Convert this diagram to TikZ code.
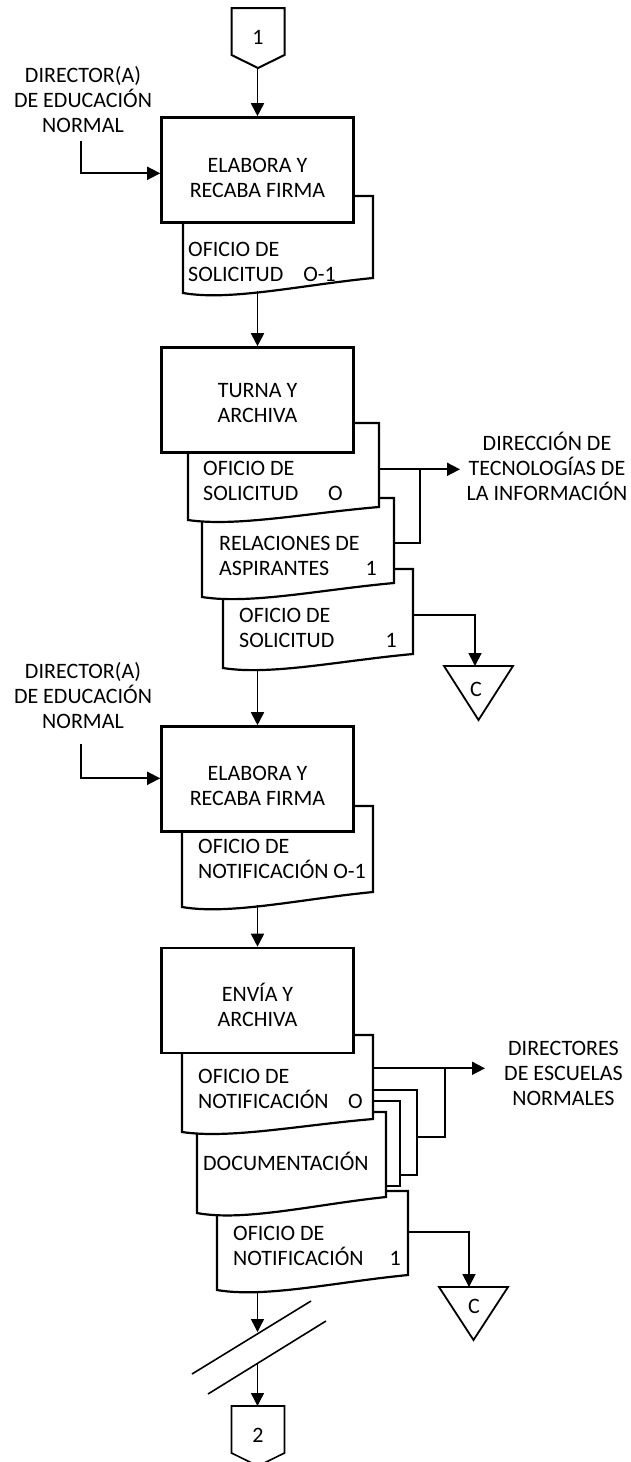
\documentclass[tikz,border=0pt]{standalone}
\usepackage{fontspec}
\setmainfont{Carlito}
\usetikzlibrary{arrows.meta}
\tikzset{
  procbox/.style={draw, line width=2.6pt, fill=white, minimum width=192pt, minimum height=105pt, inner sep=0pt},
  docline/.style={draw, line width=2.2pt, fill=white, line join=miter},
  conn/.style={line width=1.8pt},
  arr/.style={conn, -{Triangle[length=13pt,width=13pt]}},
  thinarr/.style={line width=1.4pt, -{Triangle[length=13pt,width=13pt]}},
  txt/.style={inner sep=0pt, font=\fontsize{22}{25}\selectfont},
  offpage/.style={line width=2pt, fill=white},
  tri/.style={line width=1.8pt, fill=white},
}
\newcommand\docshape[5]{%
  \pgfmathsetmacro\dcax{#1+0.25*(#3-#1)}%
  \pgfmathsetmacro\dcay{#4+0.55*(#4-#5)}%
  \pgfmathsetmacro\dcbx{#1+0.62*(#3-#1)}%
  \pgfmathsetmacro\dcby{#5+0.47*(#4-#5)}%
  \path[docline] (#1,#2) -- (#1,#4) .. controls (\dcax,\dcay) and (\dcbx,\dcby) .. (#3,#5) -- (#3,#2) -- cycle;
}
\begin{document}
\begin{tikzpicture}[x=1pt,y=-1pt]
\useasboundingbox (0,0) rectangle (631,1462);
\fill[white] (0,0) rectangle (631,1462);

% ---------- off-page connector 1
\draw[offpage] (231.5,8) -- (284.5,8) -- (284.5,55) -- (258,68) -- (231.5,55) -- cycle;
\node[txt] (c1) at (258,37.5) {1};
\coordinate (c1b) at (257.5,68);

% ---------- block 1
\docshape{183}{196}{373}{293}{278}
\node[procbox] (b1) at (257.5,170) {};
\node[txt, align=center, anchor=base] (b1t) at (257.5,197.5) {ELABORA Y\\RECABA FIRMA};
\node[txt, align=left, anchor=base west] (d1t) at (188,281.7) {OFICIO DE\\SOLICITUD};
\node[txt, anchor=base east] (d1n) at (336,281.7) {O-1};
\coordinate (d1s) at (257.5,291);
\draw[arr] (c1b) -- (b1.north);

\node[txt, align=center, anchor=base] (src1) at (83,132) {DIRECTOR(A)\\DE EDUCACIÓN\\NORMAL};
\coordinate (src1b) at (81,141);
\draw[arr] (src1b) |- (b1.west |- 0,173.3);

% ---------- block 2
\docshape{223}{569}{413}{668}{654}
\docshape{202}{498}{394}{597}{583}
\docshape{188}{423}{379}{520}{507}
\node[procbox] (b2) at (257.5,400) {};
\node[txt, align=center, anchor=base] (b2t) at (257.5,422) {TURNA Y\\ARCHIVA};
\draw[arr] (d1s) -- (b2.north);
\node[txt, align=left, anchor=base west] (d2at) at (203,500) {OFICIO DE\\SOLICITUD};
\node[txt, anchor=base east] (d2an) at (343,500) {O};
\node[txt, align=left, anchor=base west] (d2bt) at (219,575) {RELACIONES DE\\ASPIRANTES};
\node[txt, anchor=base east] (d2bn) at (377,575) {1};
\node[txt, align=left, anchor=base west] (d2ct) at (239,647) {OFICIO DE\\SOLICITUD};
\node[txt, anchor=base east] (d2cn) at (397,647) {1};

\coordinate (d2ar) at (379,469.3);
\coordinate (d2br) at (394,543.3);
\coordinate (d2cr) at (413,615);
\coordinate (dtiin) at (460,469.3);
\node[txt, align=center, anchor=base] (dti) at (547,500) {DIRECCIÓN DE\\TECNOLOGÍAS DE\\LA INFORMACIÓN};
\draw[arr] (d2ar) -- (dtiin);
\draw[conn] (d2br) -- (420,543.3) -- (420,469.3);

% triangle C 1
\draw[tri] (444,666) -- (513,666) -- (478.5,720) -- cycle;
\node[txt] (t1) at (476,689) {C};
\coordinate (t1top) at (475,666);
\draw[arr] (d2cr) -| (t1top);

% ---------- block 3
\coordinate (d2cs) at (257.5,669);
\docshape{182}{806}{373}{907}{892}
\node[procbox] (b3) at (257.5,779) {};
\node[txt, align=center, anchor=base] (b3t) at (257.5,805) {ELABORA Y\\RECABA FIRMA};
\draw[arr] (d2cs) -- (b3.north);
\node[txt, align=left, anchor=base west] (d3t) at (198,878.3) {OFICIO DE\\NOTIFICACIÓN};
\node[txt, anchor=base east] (d3n) at (366,878.3) {O-1};

\node[txt, align=center, anchor=base] (src2) at (83,728.3) {DIRECTOR(A)\\DE EDUCACIÓN\\NORMAL};
\coordinate (src2b) at (81,744);
\draw[arr] (src2b) |- (b3.west |- 0,778.3);

% ---------- block 4
\coordinate (d3s) at (257.5,905);
\docshape{217}{1191}{408}{1290}{1275}
\path[docline] (365,1090) -- (417,1090) -- (417,1175) -- (365,1175) -- cycle;
\path[docline] (365,1101) -- (400,1101) -- (400,1186) -- (365,1186) -- cycle;
\docshape{197}{1112}{386}{1213}{1197}
\docshape{182}{1035}{373}{1132}{1119}
\node[procbox] (b4) at (257.5,1000.5) {};
\node[txt, align=center, anchor=base] (b4t) at (257.5,1026) {ENVÍA Y\\ARCHIVA};
\draw[arr] (d3s) -- (b4.north);
\node[txt, align=left, anchor=base west] (d4at) at (198,1108.3) {OFICIO DE\\NOTIFICACIÓN};
\node[txt, anchor=base east] (d4an) at (363,1108.3) {O};
\node[txt, anchor=base west] (d4bt) at (203,1170) {DOCUMENTACIÓN};
\node[txt, align=left, anchor=base west] (d4ct) at (233,1265) {OFICIO DE\\NOTIFICACIÓN};
\node[txt, anchor=base east] (d4cn) at (401,1265) {1};

\coordinate (d4ar) at (373,1068.3);
\coordinate (d4br) at (417,1136.7);
\coordinate (d4cr) at (408,1232);
\coordinate (denin) at (485,1068.3);
\node[txt, align=center, anchor=base] (den) at (563.5,1105) {DIRECTORES\\DE ESCUELAS\\NORMALES};
\draw[arr] (d4ar) -- (denin);
\draw[conn] (d4br) -- (445,1136.7) -- (445,1068.3);

% triangle C 2
\draw[tri] (439,1287) -- (508,1287) -- (473.5,1340) -- cycle;
\node[txt] (t2) at (474,1306) {C};
\coordinate (t2top) at (469,1287);
\draw[arr] (d4cr) -| (t2top);

% ---------- break and connector 2
\coordinate (d4cs) at (257.5,1291);
\coordinate (brk1) at (257.5,1332);
\coordinate (brk2) at (257.5,1363);
\draw[line width=1.6pt] (192,1374) -- (311,1301);
\draw[line width=1.6pt] (208,1394) -- (326,1321);
\draw[offpage, line width=1.6pt] (231.5,1406) -- (284.5,1406) -- (284.5,1453) -- (258,1466) -- (231.5,1453) -- cycle;
\node[txt] (c2) at (258,1435) {2};
\coordinate (c2t) at (257.5,1406);
\draw[thinarr] (d4cs) -- (brk1);
\draw[thinarr] (brk2) -- (c2t);
\end{tikzpicture}
\end{document}
